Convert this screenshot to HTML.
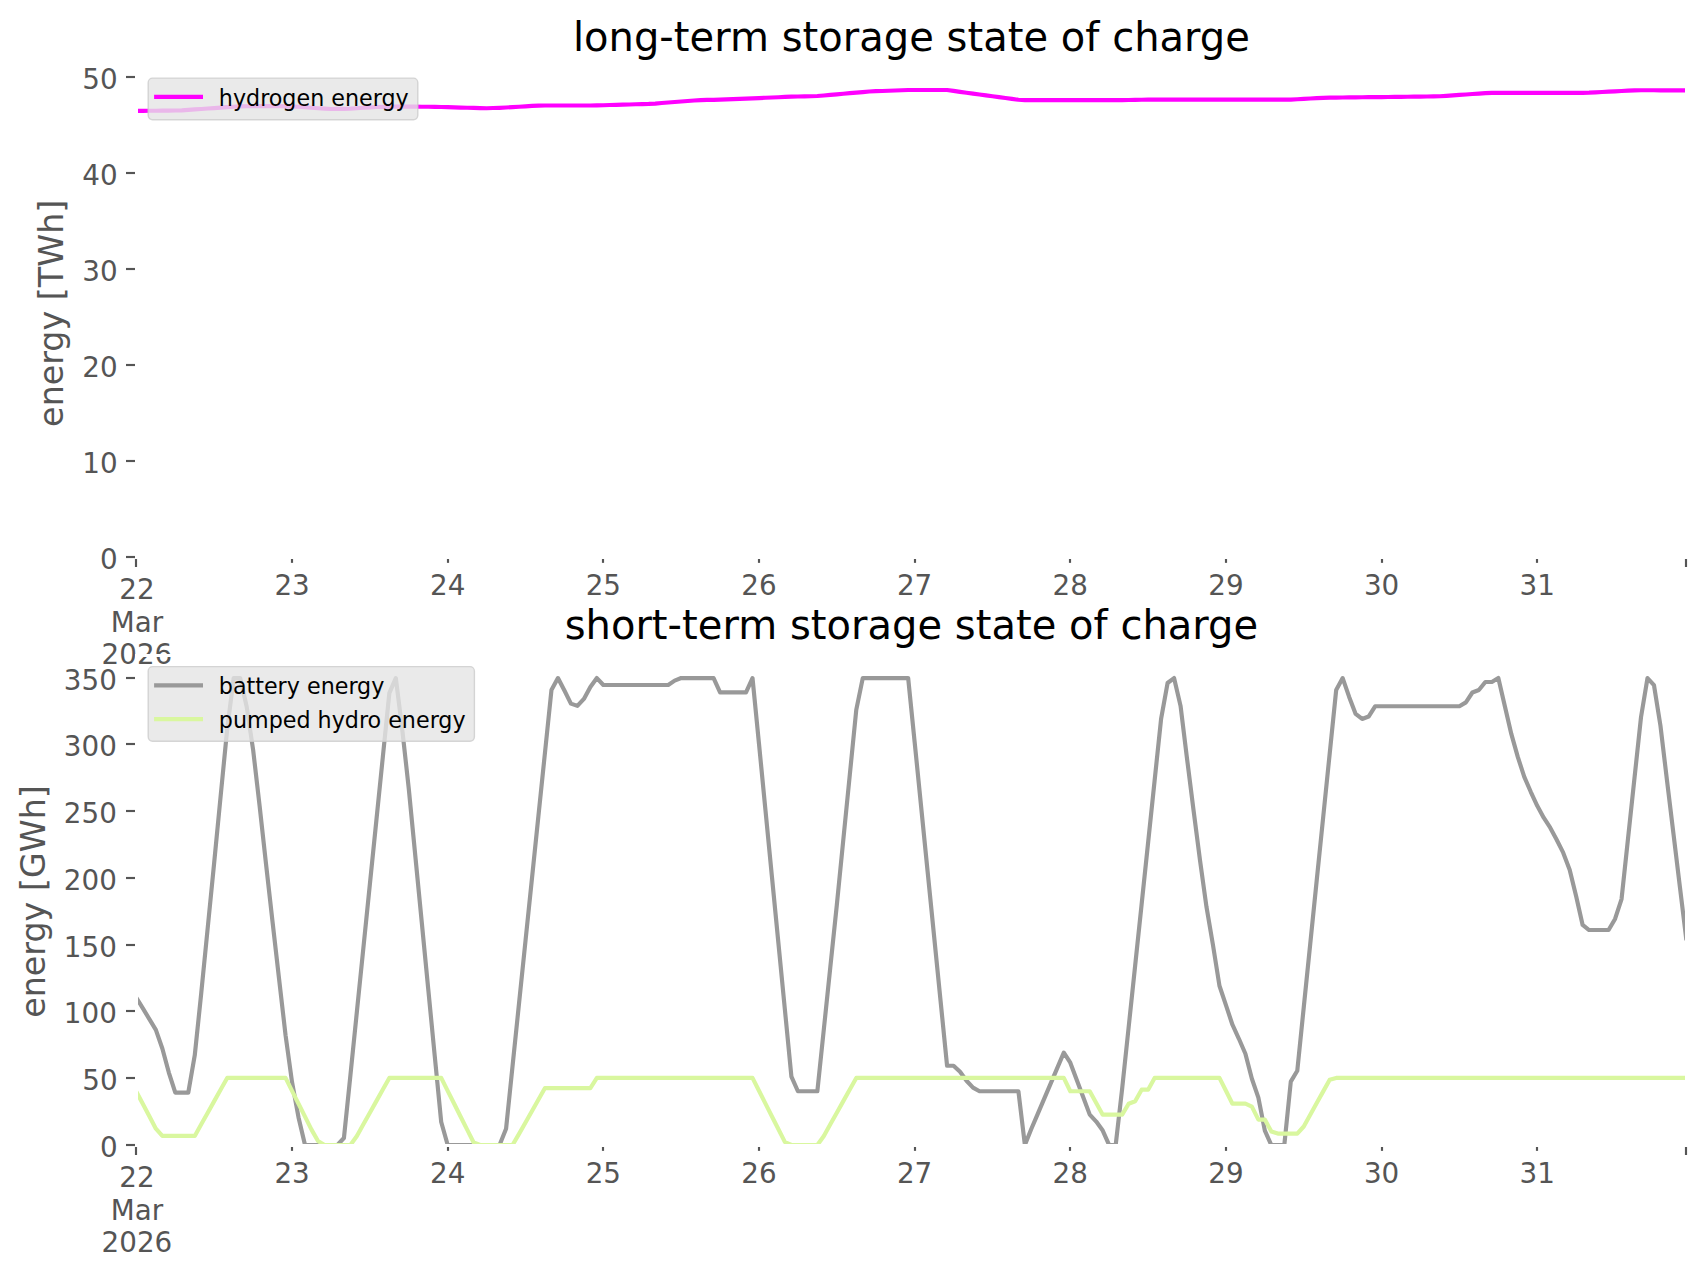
<!DOCTYPE html>
<html><head><meta charset="utf-8"><title>storage state of charge</title>
<style>
html,body{margin:0;padding:0;background:#fff;}
body{width:1706px;height:1277px;overflow:hidden;}
svg{display:block;font-family:"DejaVu Sans","Liberation Sans",sans-serif;}
</style></head><body>
<svg width="1706" height="1277" viewBox="0 0 1706 1277">
<rect width="1706" height="1277" fill="#ffffff"/>
<defs>
<clipPath id="c1"><rect x="136.4" y="66.7" width="1550.0" height="490.59999999999997"/></clipPath>
<clipPath id="c2"><rect x="136.4" y="654.7" width="1550.0" height="490.5999999999999"/></clipPath>
</defs>
<g stroke="#555555" stroke-width="2.15" fill="none">
<line x1="292.00" y1="557.3" x2="292.00" y2="562.86"/>
<line x1="448.00" y1="557.3" x2="448.00" y2="562.86"/>
<line x1="603.00" y1="557.3" x2="603.00" y2="562.86"/>
<line x1="759.00" y1="557.3" x2="759.00" y2="562.86"/>
<line x1="915.00" y1="557.3" x2="915.00" y2="562.86"/>
<line x1="1070.00" y1="557.3" x2="1070.00" y2="562.86"/>
<line x1="1226.00" y1="557.3" x2="1226.00" y2="562.86"/>
<line x1="1382.00" y1="557.3" x2="1382.00" y2="562.86"/>
<line x1="1537.00" y1="557.3" x2="1537.00" y2="562.86"/>
<line x1="136.00" y1="557.3" x2="136.00" y2="567.02"/>
<line x1="1686.00" y1="557.3" x2="1686.00" y2="567.02"/>
<line x1="126.00" y1="557.00" x2="136.4" y2="557.00"/>
<line x1="126.00" y1="461.00" x2="136.4" y2="461.00"/>
<line x1="126.00" y1="365.00" x2="136.4" y2="365.00"/>
<line x1="126.00" y1="269.00" x2="136.4" y2="269.00"/>
<line x1="126.00" y1="173.00" x2="136.4" y2="173.00"/>
<line x1="126.00" y1="77.00" x2="136.4" y2="77.00"/>
</g>
<g fill="#555555" font-size="27.78">
<text x="117.70" y="569" text-anchor="end">0</text>
<text x="117.70" y="473" text-anchor="end">10</text>
<text x="117.70" y="377" text-anchor="end">20</text>
<text x="117.70" y="281" text-anchor="end">30</text>
<text x="117.70" y="185" text-anchor="end">40</text>
<text x="117.70" y="89" text-anchor="end">50</text>
<text x="292.05" y="595" text-anchor="middle">23</text>
<text x="447.70" y="595" text-anchor="middle">24</text>
<text x="603.35" y="595" text-anchor="middle">25</text>
<text x="758.99" y="595" text-anchor="middle">26</text>
<text x="914.64" y="595" text-anchor="middle">27</text>
<text x="1070.29" y="595" text-anchor="middle">28</text>
<text x="1225.94" y="595" text-anchor="middle">29</text>
<text x="1381.59" y="595" text-anchor="middle">30</text>
<text x="1537.24" y="595" text-anchor="middle">31</text>
<text x="136.90" y="599" text-anchor="middle">22</text>
<text x="136.90" y="632" text-anchor="middle">Mar</text>
<text x="136.90" y="664" text-anchor="middle">2026</text>
</g>
<text transform="translate(62.7,313.3) rotate(-90)" text-anchor="middle" font-size="33.33" fill="#555555">energy [TWh]</text>
<text x="911.40" y="51" text-anchor="middle" font-size="40" letter-spacing="0.03" fill="#000000">long-term storage state of charge</text>
<g clip-path="url(#c1)" fill="none" stroke-width="4.17" stroke-linejoin="round" stroke-linecap="butt">
<polyline stroke="#ff00ff" points="136.40,110.90 142.89,110.84 149.37,110.78 155.86,110.72 162.34,110.66 168.83,110.60 175.31,110.53 181.80,110.31 188.28,109.88 194.77,109.45 201.25,109.01 207.74,108.53 214.22,108.05 220.71,107.57 227.19,107.10 233.68,106.74 240.17,106.42 246.65,106.26 253.14,106.19 259.62,106.12 266.11,106.05 272.59,106.04 279.08,106.18 285.56,106.32 292.05,106.56 298.53,106.79 305.02,107.29 311.50,107.79 317.99,108.23 324.48,108.65 330.96,108.99 337.45,108.92 343.93,108.85 350.42,108.70 356.90,108.25 363.39,107.79 369.87,107.35 376.36,106.99 382.84,106.89 389.33,106.78 395.81,106.67 402.30,106.61 408.78,106.65 415.27,106.69 421.76,106.72 428.24,106.76 434.73,106.80 441.21,106.99 447.70,107.19 454.18,107.38 460.67,107.58 467.15,107.76 473.64,107.95 480.12,108.13 486.61,108.28 493.09,108.04 499.58,107.80 506.07,107.53 512.55,107.12 519.04,106.71 525.52,106.30 532.01,105.92 538.49,105.58 544.98,105.50 551.46,105.50 557.95,105.50 564.43,105.50 570.92,105.50 577.40,105.50 583.89,105.50 590.37,105.50 596.86,105.42 603.35,105.23 609.83,105.04 616.32,104.85 622.80,104.66 629.29,104.47 635.77,104.28 642.26,104.09 648.74,103.90 655.23,103.55 661.71,103.04 668.20,102.52 674.68,102.01 681.17,101.50 687.66,100.99 694.14,100.48 700.63,100.07 707.11,99.93 713.60,99.80 720.08,99.66 726.57,99.45 733.05,99.17 739.54,98.89 746.02,98.61 752.51,98.34 758.99,98.06 765.48,97.78 771.96,97.50 778.45,97.22 784.94,96.95 791.42,96.67 797.91,96.50 804.39,96.36 810.88,96.22 817.36,96.02 823.85,95.46 830.33,94.90 836.82,94.33 843.30,93.77 849.79,93.20 856.27,92.64 862.76,92.07 869.25,91.51 875.73,91.20 882.22,90.96 888.70,90.72 895.19,90.48 901.67,90.24 908.16,90.00 914.64,90.00 921.13,90.00 927.61,90.00 934.10,90.00 940.58,90.00 947.07,90.04 953.55,90.92 960.04,91.81 966.53,92.70 973.01,93.58 979.50,94.47 985.98,95.35 992.47,96.24 998.95,97.13 1005.44,98.01 1011.92,98.90 1018.41,99.79 1024.89,100.10 1031.38,100.10 1037.86,100.10 1044.35,100.10 1050.84,100.10 1057.32,100.10 1063.81,100.10 1070.29,100.10 1076.78,100.10 1083.26,100.10 1089.75,100.10 1096.23,100.10 1102.72,100.10 1109.20,100.10 1115.69,100.10 1122.17,100.10 1128.66,100.04 1135.14,99.91 1141.63,99.77 1148.12,99.63 1154.60,99.60 1161.09,99.61 1167.57,99.61 1174.06,99.62 1180.54,99.62 1187.03,99.63 1193.51,99.63 1200.00,99.64 1206.48,99.64 1212.97,99.65 1219.45,99.65 1225.94,99.65 1232.43,99.66 1238.91,99.66 1245.40,99.67 1251.88,99.67 1258.37,99.68 1264.85,99.68 1271.34,99.69 1277.82,99.69 1284.31,99.70 1290.79,99.60 1297.28,99.24 1303.76,98.88 1310.25,98.52 1316.73,98.16 1323.22,97.80 1329.71,97.65 1336.19,97.57 1342.68,97.50 1349.16,97.42 1355.65,97.35 1362.13,97.27 1368.62,97.20 1375.10,97.12 1381.59,97.05 1388.07,96.97 1394.56,96.90 1401.04,96.83 1407.53,96.75 1414.02,96.68 1420.50,96.60 1426.99,96.53 1433.47,96.45 1439.96,96.26 1446.44,95.82 1452.93,95.37 1459.41,94.92 1465.90,94.47 1472.38,94.02 1478.87,93.57 1485.35,93.12 1491.84,92.80 1498.32,92.80 1504.81,92.80 1511.30,92.80 1517.78,92.80 1524.27,92.80 1530.75,92.80 1537.24,92.80 1543.72,92.80 1550.21,92.80 1556.69,92.80 1563.18,92.80 1569.66,92.80 1576.15,92.80 1582.63,92.80 1589.12,92.69 1595.61,92.35 1602.09,92.01 1608.58,91.67 1615.06,91.33 1621.55,90.99 1628.03,90.64 1634.52,90.30 1641.00,90.22 1647.49,90.24 1653.97,90.27 1660.46,90.30 1666.94,90.32 1673.43,90.35 1679.91,90.38 1686.40,90.40"/>
</g>
<rect x="136.5" y="67.5" width="1550.0" height="490.0" fill="none" stroke="#ffffff" stroke-width="3"/>
<rect x="148.2" y="78.1" width="269.6" height="41.6" rx="4.4" ry="4.4" fill="#e5e5e5" fill-opacity="0.8" stroke="#cccccc" stroke-opacity="0.8" stroke-width="1.39"/>
<line x1="154.10" y1="96.8" x2="203.00" y2="96.8" stroke="#ff00ff" stroke-width="4.17"/>
<text x="218.80" y="105.60" font-size="22.22" fill="#000000">hydrogen energy</text>
<g stroke="#555555" stroke-width="2.15" fill="none">
<line x1="292.00" y1="1145.3" x2="292.00" y2="1150.86"/>
<line x1="448.00" y1="1145.3" x2="448.00" y2="1150.86"/>
<line x1="603.00" y1="1145.3" x2="603.00" y2="1150.86"/>
<line x1="759.00" y1="1145.3" x2="759.00" y2="1150.86"/>
<line x1="915.00" y1="1145.3" x2="915.00" y2="1150.86"/>
<line x1="1070.00" y1="1145.3" x2="1070.00" y2="1150.86"/>
<line x1="1226.00" y1="1145.3" x2="1226.00" y2="1150.86"/>
<line x1="1382.00" y1="1145.3" x2="1382.00" y2="1150.86"/>
<line x1="1537.00" y1="1145.3" x2="1537.00" y2="1150.86"/>
<line x1="136.00" y1="1145.3" x2="136.00" y2="1155.02"/>
<line x1="1686.00" y1="1145.3" x2="1686.00" y2="1155.02"/>
<line x1="126.00" y1="1145.00" x2="136.4" y2="1145.00"/>
<line x1="126.00" y1="1078.00" x2="136.4" y2="1078.00"/>
<line x1="126.00" y1="1011.00" x2="136.4" y2="1011.00"/>
<line x1="126.00" y1="945.00" x2="136.4" y2="945.00"/>
<line x1="126.00" y1="878.00" x2="136.4" y2="878.00"/>
<line x1="126.00" y1="811.00" x2="136.4" y2="811.00"/>
<line x1="126.00" y1="744.00" x2="136.4" y2="744.00"/>
<line x1="126.00" y1="678.00" x2="136.4" y2="678.00"/>
</g>
<g fill="#555555" font-size="27.78">
<text x="117.70" y="1157" text-anchor="end">0</text>
<text x="117.70" y="1090" text-anchor="end">50</text>
<text x="116.80" y="1023" text-anchor="end">100</text>
<text x="116.80" y="957" text-anchor="end">150</text>
<text x="116.80" y="890" text-anchor="end">200</text>
<text x="116.80" y="823" text-anchor="end">250</text>
<text x="116.80" y="756" text-anchor="end">300</text>
<text x="116.80" y="690" text-anchor="end">350</text>
<text x="292.05" y="1183" text-anchor="middle">23</text>
<text x="447.70" y="1183" text-anchor="middle">24</text>
<text x="603.35" y="1183" text-anchor="middle">25</text>
<text x="758.99" y="1183" text-anchor="middle">26</text>
<text x="914.64" y="1183" text-anchor="middle">27</text>
<text x="1070.29" y="1183" text-anchor="middle">28</text>
<text x="1225.94" y="1183" text-anchor="middle">29</text>
<text x="1381.59" y="1183" text-anchor="middle">30</text>
<text x="1537.24" y="1183" text-anchor="middle">31</text>
<text x="136.90" y="1187" text-anchor="middle">22</text>
<text x="136.90" y="1220" text-anchor="middle">Mar</text>
<text x="136.90" y="1252" text-anchor="middle">2026</text>
</g>
<text transform="translate(44.8,901.5) rotate(-90)" text-anchor="middle" font-size="33.33" fill="#555555">energy [GWh]</text>
<text x="911.40" y="639" text-anchor="middle" font-size="40" letter-spacing="0.03" fill="#000000">short-term storage state of charge</text>
<g clip-path="url(#c2)" fill="none" stroke-width="4.17" stroke-linejoin="round" stroke-linecap="butt">
<polyline stroke="#999999" points="136.40,997.76 142.89,1008.44 149.37,1019.13 155.86,1029.82 162.34,1048.52 168.83,1072.56 175.31,1092.60 181.80,1092.60 188.28,1092.60 194.77,1055.20 201.25,993.08 207.74,927.62 214.22,862.17 220.71,795.37 227.19,729.25 233.68,678.06 240.17,678.06 246.65,706.54 253.14,749.95 259.62,806.06 266.11,864.84 272.59,922.28 279.08,979.05 285.56,1035.16 292.05,1082.18 298.53,1117.45 305.02,1145.03 311.50,1145.03 317.99,1145.03 324.48,1145.03 330.96,1145.03 337.45,1145.03 343.93,1138.02 350.42,1075.24 356.90,1011.56 363.39,947.88 369.87,884.21 376.36,820.53 382.84,756.86 389.33,693.18 395.81,678.06 402.30,729.92 408.78,788.69 415.27,855.49 421.76,922.28 428.24,989.07 434.73,1055.87 441.21,1121.99 447.70,1145.03 454.18,1145.03 460.67,1145.03 467.15,1145.03 473.64,1145.03 480.12,1145.03 486.61,1145.03 493.09,1145.03 499.58,1145.03 506.07,1128.67 512.55,1066.00 519.04,1003.33 525.52,940.66 532.01,877.99 538.49,815.32 544.98,752.64 551.46,689.97 557.95,678.06 564.43,690.51 570.92,703.60 577.40,705.87 583.89,698.92 590.37,686.90 596.86,678.06 603.35,685.03 609.83,685.03 616.32,685.03 622.80,685.03 629.29,685.03 635.77,685.03 642.26,685.03 648.74,685.03 655.23,685.03 661.71,685.03 668.20,685.03 674.68,680.62 681.17,678.06 687.66,678.06 694.14,678.06 700.63,678.06 707.11,678.06 713.60,678.06 720.08,692.38 726.57,692.38 733.05,692.38 739.54,692.38 746.02,692.38 752.51,678.06 758.99,743.74 765.48,810.33 771.96,876.93 778.45,943.52 784.94,1010.11 791.42,1076.71 797.91,1091.27 804.39,1091.27 810.88,1091.27 817.36,1091.27 823.85,1029.15 830.33,967.03 836.82,904.91 843.30,839.90 849.79,774.89 856.27,709.88 862.76,678.06 869.25,678.06 875.73,678.06 882.22,678.06 888.70,678.06 895.19,678.06 901.67,678.06 908.16,678.06 914.64,741.92 921.13,806.68 927.61,871.45 934.10,936.22 940.58,1000.98 947.07,1065.75 953.55,1065.75 960.04,1071.76 966.53,1080.71 973.01,1087.66 979.50,1091.27 985.98,1091.27 992.47,1091.27 998.95,1091.27 1005.44,1091.27 1011.92,1091.27 1018.41,1091.27 1024.89,1145.03 1031.38,1128.80 1037.86,1113.58 1044.35,1098.35 1050.84,1083.12 1057.32,1067.89 1063.81,1052.66 1070.29,1062.68 1076.78,1080.00 1083.26,1097.32 1089.75,1114.64 1096.23,1121.59 1102.72,1130.54 1109.20,1145.03 1115.69,1145.03 1122.17,1088.59 1128.66,1027.14 1135.14,965.70 1141.63,904.25 1148.12,842.48 1154.60,780.72 1161.09,718.96 1167.57,683.03 1174.06,678.06 1180.54,705.87 1187.03,758.64 1193.51,810.07 1200.00,860.16 1206.48,906.92 1212.97,944.99 1219.45,985.73 1225.94,1005.10 1232.43,1024.74 1238.91,1038.77 1245.40,1053.73 1251.88,1078.71 1258.37,1097.68 1264.85,1130.54 1271.34,1145.03 1277.82,1145.03 1284.31,1145.03 1290.79,1081.65 1297.28,1070.69 1303.76,1007.24 1310.25,943.79 1316.73,880.33 1323.22,816.88 1329.71,753.43 1336.19,689.97 1342.68,678.06 1349.16,696.92 1355.65,713.89 1362.13,718.96 1368.62,716.56 1375.10,706.27 1381.59,706.27 1388.07,706.27 1394.56,706.27 1401.04,706.27 1407.53,706.27 1414.02,706.27 1420.50,706.27 1426.99,706.27 1433.47,706.27 1439.96,706.27 1446.44,706.27 1452.93,706.27 1459.41,706.27 1465.90,702.40 1472.38,692.51 1478.87,689.97 1485.35,681.96 1491.84,681.96 1498.32,678.06 1504.81,706.00 1511.30,733.92 1517.78,756.90 1524.27,776.80 1530.75,791.77 1537.24,805.79 1543.72,817.68 1550.21,827.70 1556.69,839.72 1563.18,852.68 1569.66,869.65 1576.15,896.23 1582.63,924.95 1589.12,930.03 1595.61,930.03 1602.09,930.03 1608.58,930.03 1615.06,918.94 1621.55,899.04 1628.03,838.43 1634.52,777.83 1641.00,717.23 1647.49,678.06 1653.97,685.16 1660.46,725.77 1666.94,780.01 1673.43,833.45 1679.91,886.88 1686.40,940.31"/>
<polyline stroke="#d9f79f" points="136.40,1091.67 142.89,1104.00 149.37,1116.34 155.86,1128.67 162.34,1135.95 168.83,1135.95 175.31,1135.95 181.80,1135.95 188.28,1135.95 194.77,1135.95 201.25,1124.34 207.74,1112.73 214.22,1101.12 220.71,1089.52 227.19,1077.91 233.68,1077.91 240.17,1077.91 246.65,1077.91 253.14,1077.91 259.62,1077.91 266.11,1077.91 272.59,1077.91 279.08,1077.91 285.56,1077.91 292.05,1090.83 298.53,1103.76 305.02,1116.68 311.50,1129.61 317.99,1140.96 324.48,1145.03 330.96,1145.03 337.45,1145.03 343.93,1145.03 350.42,1145.03 356.90,1135.95 363.39,1124.34 369.87,1112.73 376.36,1101.12 382.84,1089.52 389.33,1077.91 395.81,1077.91 402.30,1077.91 408.78,1077.91 415.27,1077.91 421.76,1077.91 428.24,1077.91 434.73,1077.91 441.21,1077.91 447.70,1090.84 454.18,1103.77 460.67,1116.70 467.15,1129.63 473.64,1142.56 480.12,1145.03 486.61,1145.03 493.09,1145.03 499.58,1145.03 506.07,1145.03 512.55,1145.03 519.04,1133.88 525.52,1122.43 532.01,1110.97 538.49,1099.52 544.98,1088.06 551.46,1088.06 557.95,1088.06 564.43,1088.06 570.92,1088.06 577.40,1088.06 583.89,1088.06 590.37,1088.06 596.86,1077.91 603.35,1077.91 609.83,1077.91 616.32,1077.91 622.80,1077.91 629.29,1077.91 635.77,1077.91 642.26,1077.91 648.74,1077.91 655.23,1077.91 661.71,1077.91 668.20,1077.91 674.68,1077.91 681.17,1077.91 687.66,1077.91 694.14,1077.91 700.63,1077.91 707.11,1077.91 713.60,1077.91 720.08,1077.91 726.57,1077.91 733.05,1077.91 739.54,1077.91 746.02,1077.91 752.51,1077.91 758.99,1090.76 765.48,1103.61 771.96,1116.46 778.45,1129.31 784.94,1142.16 791.42,1145.03 797.91,1145.03 804.39,1145.03 810.88,1145.03 817.36,1145.03 823.85,1135.95 830.33,1124.34 836.82,1112.73 843.30,1101.12 849.79,1089.52 856.27,1077.91 862.76,1077.91 869.25,1077.91 875.73,1077.91 882.22,1077.91 888.70,1077.91 895.19,1077.91 901.67,1077.91 908.16,1077.91 914.64,1077.91 921.13,1077.91 927.61,1077.91 934.10,1077.91 940.58,1077.91 947.07,1077.91 953.55,1077.91 960.04,1077.91 966.53,1077.91 973.01,1077.91 979.50,1077.91 985.98,1077.91 992.47,1077.91 998.95,1077.91 1005.44,1077.91 1011.92,1077.91 1018.41,1077.91 1024.89,1077.91 1031.38,1077.91 1037.86,1077.91 1044.35,1077.91 1050.84,1077.91 1057.32,1077.91 1063.81,1077.91 1070.29,1091.27 1076.78,1091.27 1083.26,1091.27 1089.75,1091.27 1096.23,1102.95 1102.72,1114.64 1109.20,1114.64 1115.69,1114.64 1122.17,1114.64 1128.66,1103.69 1135.14,1101.29 1141.63,1089.66 1148.12,1089.66 1154.60,1077.91 1161.09,1077.91 1167.57,1077.91 1174.06,1077.91 1180.54,1077.91 1187.03,1077.91 1193.51,1077.91 1200.00,1077.91 1206.48,1077.91 1212.97,1077.91 1219.45,1077.91 1225.94,1090.80 1232.43,1103.69 1238.91,1103.69 1245.40,1103.69 1251.88,1106.63 1258.37,1119.59 1264.85,1119.59 1271.34,1131.61 1277.82,1133.61 1284.31,1133.61 1290.79,1133.61 1297.28,1133.61 1303.76,1126.53 1310.25,1114.81 1316.73,1103.09 1323.22,1091.37 1329.71,1079.64 1336.19,1077.91 1342.68,1077.91 1349.16,1077.91 1355.65,1077.91 1362.13,1077.91 1368.62,1077.91 1375.10,1077.91 1381.59,1077.91 1388.07,1077.91 1394.56,1077.91 1401.04,1077.91 1407.53,1077.91 1414.02,1077.91 1420.50,1077.91 1426.99,1077.91 1433.47,1077.91 1439.96,1077.91 1446.44,1077.91 1452.93,1077.91 1459.41,1077.91 1465.90,1077.91 1472.38,1077.91 1478.87,1077.91 1485.35,1077.91 1491.84,1077.91 1498.32,1077.91 1504.81,1077.91 1511.30,1077.91 1517.78,1077.91 1524.27,1077.91 1530.75,1077.91 1537.24,1077.91 1543.72,1077.91 1550.21,1077.91 1556.69,1077.91 1563.18,1077.91 1569.66,1077.91 1576.15,1077.91 1582.63,1077.91 1589.12,1077.91 1595.61,1077.91 1602.09,1077.91 1608.58,1077.91 1615.06,1077.91 1621.55,1077.91 1628.03,1077.91 1634.52,1077.91 1641.00,1077.91 1647.49,1077.91 1653.97,1077.91 1660.46,1077.91 1666.94,1077.91 1673.43,1077.91 1679.91,1077.91 1686.40,1077.91"/>
</g>
<rect x="136.5" y="655.5" width="1550.0" height="490.0" fill="none" stroke="#ffffff" stroke-width="3"/>
<rect x="148.2" y="666.6" width="326.2" height="74.6" rx="4.4" ry="4.4" fill="#e5e5e5" fill-opacity="0.8" stroke="#cccccc" stroke-opacity="0.8" stroke-width="1.39"/>
<line x1="154.10" y1="685.3" x2="203.00" y2="685.3" stroke="#999999" stroke-width="4.17"/>
<text x="218.80" y="694.10" font-size="22.22" fill="#000000">battery energy</text>
<line x1="154.10" y1="719.1" x2="203.00" y2="719.1" stroke="#d9f79f" stroke-width="4.17"/>
<text x="218.80" y="727.90" font-size="22.22" fill="#000000">pumped hydro energy</text>
</svg>
</body></html>
